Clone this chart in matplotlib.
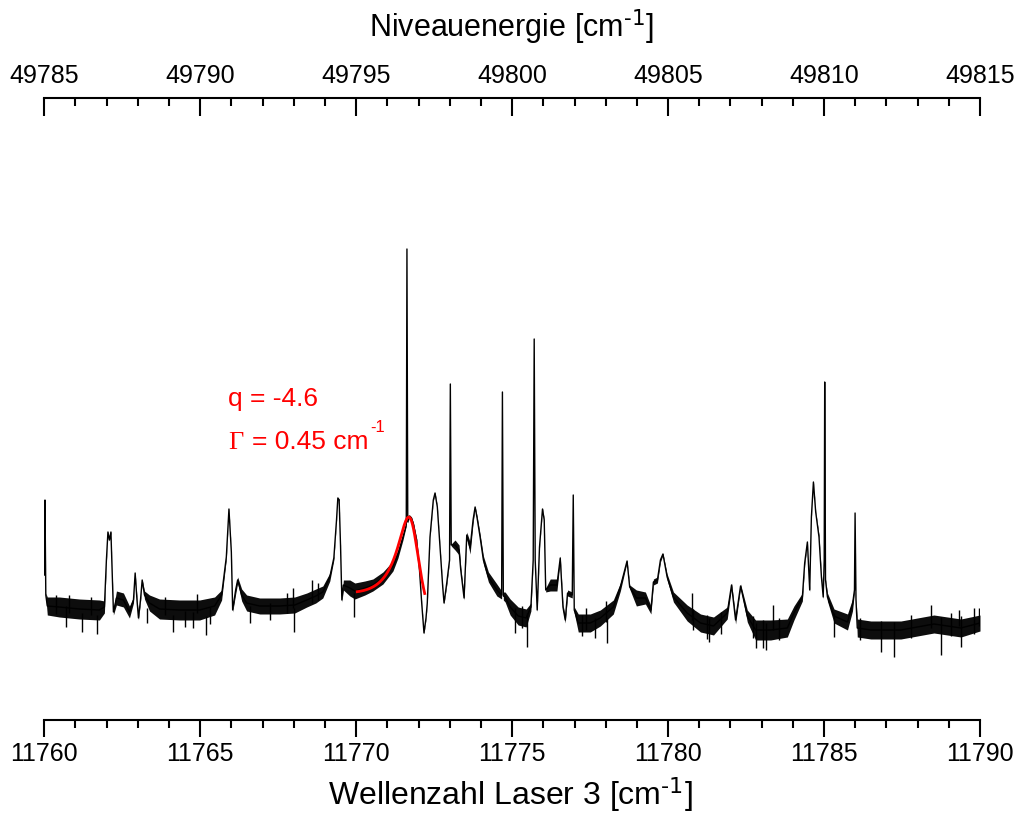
import numpy as np
import matplotlib
matplotlib.use("Agg")
import matplotlib.pyplot as plt
from matplotlib.ticker import MultipleLocator, StrMethodFormatter

plt.rcParams["font.family"] = ["Liberation Sans", "DejaVu Sans"]
plt.rcParams["mathtext.default"] = "regular"

# Laser-3 wavenumber [cm^-1] of the sampled spectrum points
wavenumber = [
    11760.000, 11760.022, 11760.048, 11760.096, 11760.482, 11761.124, 11761.767, 11761.927,
    11761.991, 11762.040, 11762.088, 11762.136, 11762.184, 11762.216,
    11762.313, 11762.537, 11762.730, 11762.859, 11762.913, 11762.971, 11763.019, 11763.084,
    11763.138, 11763.212, 11763.373,
    11763.694, 11764.336, 11764.979, 11765.460, 11765.685, 11765.836, 11765.920, 11765.958,
    11765.997, 11766.039, 11766.135, 11766.199, 11766.328, 11766.488,
    11766.906, 11767.548, 11768.030, 11768.416, 11768.705, 11768.929, 11769.154, 11769.283,
    11769.369, 11769.411, 11769.453, 11769.498, 11769.540, 11769.588, 11769.797, 11769.957,
    11770.278, 11770.535, 11770.857, 11771.178, 11771.338, 11771.499, 11771.605, 11771.627,
    11771.653, 11771.708, 11771.772, 11771.836, 11771.939, 11772.029, 11772.100, 11772.173,
    11772.238, 11772.279, 11772.366, 11772.472, 11772.527, 11772.601, 11772.687, 11772.774,
    11772.816, 11772.903, 11772.993, 11773.018, 11773.047, 11773.169, 11773.298, 11773.352,
    11773.458, 11773.545, 11773.651, 11773.747, 11773.812, 11773.876, 11773.972, 11774.078,
    11774.239, 11774.509, 11774.663, 11774.688, 11774.717, 11774.775, 11774.936, 11775.193,
    11775.450, 11775.601, 11775.675, 11775.707, 11775.739, 11775.803, 11775.877, 11775.973,
    11776.028, 11776.076, 11776.221, 11776.436, 11776.542, 11776.629, 11776.702, 11776.776,
    11776.927, 11776.959, 11776.991, 11777.120, 11777.505, 11777.827, 11778.244, 11778.469,
    11778.684, 11778.768, 11778.983, 11779.272, 11779.449, 11779.529, 11779.657, 11779.754,
    11779.834, 11779.969, 11780.171, 11780.611, 11781.039, 11781.456, 11781.896, 11782.034,
    11782.163, 11782.323, 11782.539, 11782.805, 11783.287, 11783.823, 11784.035, 11784.305,
    11784.379, 11784.466, 11784.540, 11784.594, 11784.659, 11784.732, 11784.838, 11784.916,
    11784.973, 11785.005, 11785.021, 11785.047, 11785.108, 11785.320, 11785.751, 11785.911,
    11785.975, 11785.995, 11786.024, 11786.065, 11786.499, 11787.463, 11788.523, 11789.390,
    11790.000,
]

# ion signal (arb. units) at those wavenumbers
signal = [
    143, 218, 123, 112, 111, 109, 108, 111,
    158, 186, 178, 186, 138, 106,
    120, 118, 106, 118, 145, 118, 100, 118,
    138, 123, 115,
    109, 108, 108, 112, 123, 161, 209, 188,
    166, 108, 128, 138, 123, 115,
    112, 112, 113, 118, 122, 126, 141, 160,
    198, 220, 218, 172, 118, 133, 130, 127,
    130, 133, 140, 152, 164, 181, 193, 469,
    196, 202, 200, 194, 178, 148, 115, 85,
    100, 115, 181, 218, 225, 211, 171, 131,
    115, 135, 158, 334, 173, 173, 168, 148,
    120, 183, 170, 198, 211, 200, 181, 158,
    141, 128, 123, 326, 122, 121, 111, 102,
    100, 111, 158, 379, 158, 108, 171, 209,
    198, 128, 133, 133, 160, 111, 98, 125,
    123, 223, 108, 95, 95, 100, 111, 131,
    157, 131, 120, 120, 108, 136, 138, 158,
    164, 141, 121, 105, 95, 92, 105, 133,
    98, 132, 102, 88, 88, 90, 105, 121,
    155, 176, 128, 201, 236, 206, 181, 141,
    121, 158, 336, 138, 121, 102, 96, 113,
    128, 205, 118, 90, 88, 88, 94, 90,
    95,
]

# half-width of the dense noise band around the signal (arb. units)
noise = [
    1, 0, 2, 9, 10, 10, 10, 6,
    2, 1, 1, 1, 2, 3,
    7, 7, 6, 3, 1, 3, 2, 2,
    1, 4, 8,
    10, 10, 10, 9, 5, 2, 1, 1,
    1, 2, 4, 3, 6, 8,
    8, 8, 8, 7, 7, 6, 4, 2,
    1, 1, 1, 1, 2, 5, 8, 8,
    7, 6, 6, 5, 4, 3, 1, 0,
    1, 1, 1, 1, 1, 1, 1, 1,
    1, 1, 1, 1, 1, 1, 1, 1,
    1, 2, 1, 0, 1, 5, 5, 3,
    2, 3, 6, 3, 1, 2, 3, 4,
    5, 6, 4, 0, 4, 5, 8, 9,
    9, 4, 1, 0, 1, 2, 1, 1,
    1, 2, 6, 6, 2, 3, 3, 3,
    3, 0, 3, 9, 9, 8, 7, 4,
    1, 2, 8, 6, 4, 3, 3, 2,
    1, 3, 5, 8, 9, 9, 6, 2,
    4, 2, 6, 10, 10, 9, 7, 4,
    2, 1, 2, 1, 1, 1, 2, 2,
    2, 1, 0, 1, 4, 7, 8, 6,
    2, 0, 2, 9, 9, 9, 9, 9,
    8,
]

# isolated noise spikes sticking out of the band: position, lower and upper end
spike_wn = [
    11760.376, 11760.697, 11760.803, 11761.221, 11761.510, 11761.702, 11763.308, 11763.855,
    11764.112, 11764.497, 11764.754, 11764.882, 11765.171, 11765.300, 11766.585, 11767.227,
    11767.773, 11767.966, 11768.014, 11768.567, 11768.769, 11769.927, 11775.096, 11775.321,
    11775.482, 11777.248, 11777.377, 11777.666, 11778.019, 11778.051, 11780.782, 11780.814,
    11781.232, 11781.296, 11781.682, 11782.708, 11782.805, 11783.029, 11783.126, 11783.351,
    11783.543, 11785.311, 11786.146, 11786.821, 11787.237, 11787.783, 11788.426, 11788.747,
    11789.068, 11789.326, 11789.390, 11789.807, 11789.968,
]
spike_low = [
    104, 91, 105, 86, 103, 84, 95, 103,
    86, 91, 90, 105, 83, 94, 95, 98,
    105, 110, 86, 115, 118, 101, 85, 90,
    71, 82, 88, 80, 96, 75, 98, 88,
    79, 76, 84, 80, 70, 70, 68, 88,
    78, 81, 78, 66, 61, 80, 90, 63,
    82, 92, 71, 84, 92,
]
spike_high = [
    123, 112, 123, 105, 121, 103, 110, 121,
    103, 107, 106, 124, 102, 111, 112, 115,
    125, 130, 110, 138, 135, 125, 110, 112,
    105, 103, 110, 100, 117, 100, 125, 109,
    103, 100, 106, 102, 95, 98, 95, 113,
    100, 105, 100, 97, 96, 103, 113, 101,
    105, 108, 102, 110, 110,
]

# Fano fit of the resonance near 11771.8 cm^-1
fano_q = -4.6
fano_gamma = 0.45          # cm^-1
fano_e0 = 11771.791        # resonance position
fano_amp = 4.965           # amplitude
fano_bg = 90.17            # constant background
fano_slope = -7.98         # linear background per cm^-1
fano_range = (11769.99, 11772.206)

# level energy = laser-3 wavenumber + energy of the intermediate level
level_offset = 38025

x_lo, x_hi = 11760, 11790

wavenumber = np.asarray(wavenumber)
signal = np.asarray(signal, dtype=float)
noise = np.asarray(noise, dtype=float)

fig = plt.figure(figsize=(10.21, 8.17), dpi=100)
ax = fig.add_axes([44.3 / 1021, 97 / 817, (980 - 44.3) / 1021, 622 / 817])

ax.fill_between(wavenumber, signal - noise, signal + noise, color="0.05", lw=0)
ax.vlines(spike_wn, spike_low, spike_high, color="black", lw=1.0)
ax.plot(wavenumber, signal, color="black", lw=1.0)

e = np.linspace(*fano_range, 300)
eps = (e - fano_e0) / fano_gamma
fano = fano_amp * (fano_q + eps) ** 2 / (1 + eps ** 2) + fano_bg + fano_slope * (e - fano_e0)
ax.plot(e, fano, color="red", lw=2.0, solid_capstyle="butt")

ax.set_xlim(x_lo, x_hi)
ax.set_ylim(-2, 620)
ax.yaxis.set_visible(False)
for side in ("left", "right", "top"):
    ax.spines[side].set_visible(False)
ax.spines["bottom"].set_linewidth(1.5)
ax.xaxis.set_major_locator(MultipleLocator(5))
ax.xaxis.set_minor_locator(MultipleLocator(1))
ax.xaxis.set_major_formatter(StrMethodFormatter("{x:.0f}"))
ax.tick_params(axis="x", which="major", direction="out", length=12, width=1.5,
               labelsize=18, pad=4)
ax.tick_params(axis="x", which="minor", direction="out", length=6, width=1.5)

ax2 = ax.twiny()
ax2.set_xlim(x_lo + level_offset, x_hi + level_offset)
for side in ("left", "right", "bottom"):
    ax2.spines[side].set_visible(False)
ax2.spines["top"].set_linewidth(1.5)
ax2.xaxis.set_major_locator(MultipleLocator(5))
ax2.xaxis.set_minor_locator(MultipleLocator(1))
ax2.xaxis.set_major_formatter(StrMethodFormatter("{x:.0f}"))
ax2.tick_params(axis="x", which="major", direction="in", length=13, width=1.5,
                labelsize=18, pad=7)
ax2.tick_params(axis="x", which="minor", direction="in", length=6, width=1.5)

W, H = 1021, 817
fig.text(510.5 / W, 1 - 805 / H, r"Wellenzahl Laser 3 [cm$^{\text{-1}}$]",
         ha="center", va="baseline", fontsize=23)
fig.text(511.5 / W, 1 - 37 / H, r"Niveauenergie [cm$^{\text{-1}}$]",
         ha="center", va="baseline", fontsize=22)

red = dict(color="red", fontsize=19, va="baseline")
fig.text(228 / W, 1 - 406 / H, "q = -4.6", **red)
fig.text(228 / W, 1 - 449 / H, "\u0393", family=["Liberation Serif", "DejaVu Serif"], **red)
gamma_txt = fig.text(252 / W, 1 - 449 / H, "= 0.45 cm", **red)
fig.canvas.draw()
bb = gamma_txt.get_window_extent()
fig.text((bb.x1 + 2) / W, 1 - 432 / H, "-1", color="red", fontsize=12, va="baseline")

fig.savefig("out.png", dpi=100, facecolor="white")
